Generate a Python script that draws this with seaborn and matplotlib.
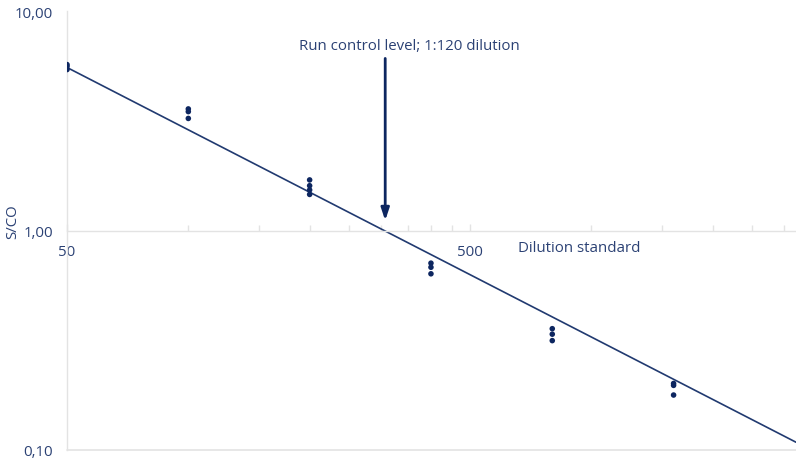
import matplotlib
matplotlib.use("Agg")
import matplotlib.pyplot as plt
import seaborn as sns
import pandas as pd
from matplotlib.ticker import FixedLocator, FuncFormatter, NullFormatter

# ---- data ----
dilutions = [50, 50, 50,
             100, 100, 100,
             200, 200, 200, 200,
             400, 400, 400,
             800, 800, 800,
             1600, 1600, 1600]
sco_values = [5.70, 5.59, 5.41,
              3.58, 3.48, 3.24,
              1.70, 1.60, 1.53, 1.46,
              0.710, 0.680, 0.635,
              0.357, 0.337, 0.315,
              0.201, 0.197, 0.178]
trend_x = [50, 3220]
trend_y = [5.53, 0.1085]
arrow_x = 308
arrow_top = 6.08
arrow_tip = 1.11
x_major = [50, 500]
x_minor = [100, 150, 200, 250, 300, 350, 400, 450, 1000, 1500, 2000, 2500, 3000]
y_ticks = [0.1, 1, 10]
annotation = "Run control level; 1:120 dilution"
x_title = "Dilution standard"
y_title = "S/CO"

TEXT = "#2b4174"
DOT = "#0d2660"
LINE = "#213a70"
GRAY = "#e3e3e3"
FS = 10.8

sns.set_theme(style="white")
plt.rcParams["font.family"] = ["Open Sans", "DejaVu Sans"]

df = pd.DataFrame({"dilution": dilutions, "sco": sco_values})
trend = pd.DataFrame({"x": trend_x, "y": trend_y})

fig = plt.figure(figsize=(7.96, 4.60), dpi=100)
ax = fig.add_axes([67 / 796, 9 / 460, 729 / 796, 439 / 460])
ax.set_xscale("log")
ax.set_yscale("log")

sns.lineplot(data=trend, x="x", y="y", ax=ax, color=LINE, linewidth=1.2)
sns.scatterplot(data=df, x="dilution", y="sco", ax=ax, s=16, color=DOT,
                edgecolor="none", zorder=3)

ax.set_xlim(50, 3220)
ax.set_ylim(0.1, 10)

# spines
for s in ["top", "right"]:
    ax.spines[s].set_visible(False)
ax.spines["left"].set_color(GRAY)
ax.spines["left"].set_linewidth(1.0)
ax.spines["bottom"].set_position(("data", 1))
ax.spines["bottom"].set_color(GRAY)
ax.spines["bottom"].set_linewidth(1.0)
ax.axhline(0.1, color=GRAY, linewidth=1.2, clip_on=False, zorder=0)

# x ticks
ax.xaxis.set_major_locator(FixedLocator(x_major))
ax.xaxis.set_minor_locator(FixedLocator(x_minor))
ax.xaxis.set_major_formatter(FuncFormatter(lambda v, p: f"{v:g}"))
ax.xaxis.set_minor_formatter(NullFormatter())
ax.tick_params(axis="x", which="major", direction="in", length=5, width=1,
               color=GRAY, labelcolor=TEXT, labelsize=FS, pad=10, bottom=True)
ax.tick_params(axis="x", which="minor", direction="in", length=4, width=1,
               color=GRAY, bottom=True)

# y ticks
ax.yaxis.set_major_locator(FixedLocator(y_ticks))
ax.yaxis.set_minor_locator(FixedLocator([]))
ax.yaxis.set_major_formatter(FuncFormatter(lambda v, p: f"{v:.2f}".replace(".", ",")))
ax.tick_params(axis="y", which="major", length=0, labelcolor=TEXT,
               labelsize=FS, pad=10, left=True)

ax.set_xlabel("")
ax.set_ylabel("")

fig.text(12.5 / 796, 1 - 222 / 460, y_title, rotation=90, ha="center",
         va="center", color=TEXT, fontsize=FS)
fig.text(579 / 796, 1 - 249 / 460, x_title, ha="center", va="center",
         color=TEXT, fontsize=FS)

ax.annotate("", xy=(arrow_x, arrow_tip), xytext=(arrow_x, arrow_top),
            arrowprops=dict(arrowstyle="-|>,head_length=0.6,head_width=0.2",
                            color=DOT, lw=2, shrinkA=0, shrinkB=0))
fig.text(409.5 / 796, 1 - 46 / 460, annotation, ha="center", va="center",
         color=TEXT, fontsize=FS)

fig.savefig("out.png", dpi=100)
